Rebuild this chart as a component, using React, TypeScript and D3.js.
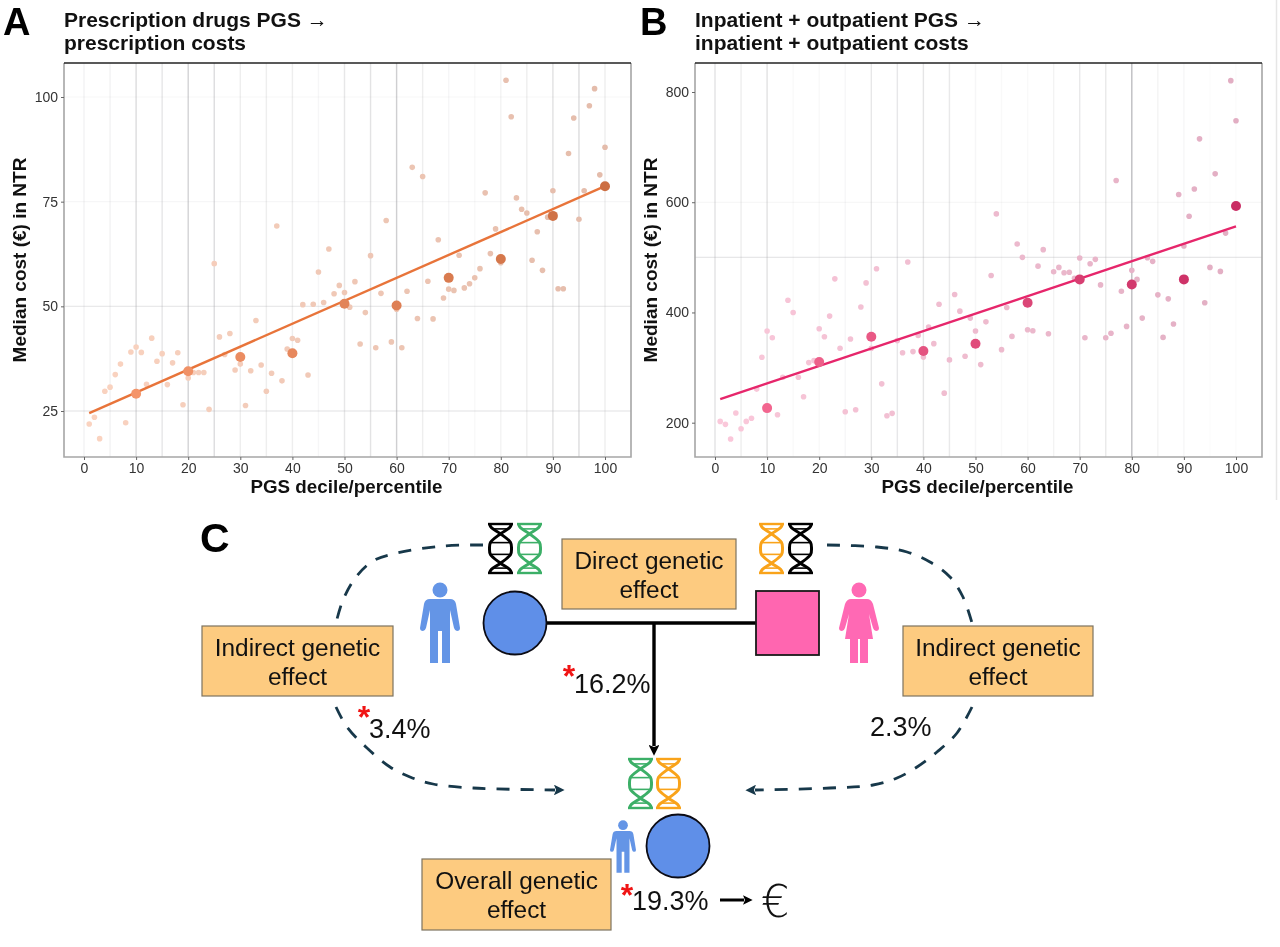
import { useEffect, useRef } from "react";
import * as d3 from "d3";

const FONT = "'Liberation Sans', Arial, sans-serif";

// percentile 1..100
const prescriptionPct = [
  21.9, 23.5, 18.4, 29.7, 30.7, 33.7, 36.2, 22.2, 39.1, 40.3,
  39.0, 31.4, 42.4, 36.9, 38.7, 31.3, 36.5, 38.9, 26.5, 32.9,
  34.2, 34.2, 34.2, 25.4, 60.2, 42.7, 38.5, 43.5, 34.8, 36.2,
  26.3, 34.6, 46.6, 36.0, 29.7, 34.0, 69.2, 32.2, 39.8, 42.3,
  41.9, 50.4, 33.6, 50.5, 58.2, 50.9, 63.7, 53.0, 55.0, 53.3,
  49.8, 55.9, 41.0, 48.5, 62.1, 40.1, 53.1, 70.5, 41.5, 49.3,
  40.1, 53.6, 83.2, 47.1, 81.0, 56.0, 47.0, 65.9, 52.0, 54.1,
  53.8, 62.2, 54.4, 55.4, 56.8, 59.0, 77.1, 62.6, 68.5, 60.4,
  104.0, 95.3, 75.9, 73.2, 72.3, 61.0, 67.8, 58.6, 71.3, 77.6,
  54.2, 54.2, 86.5, 95.0, 70.8, 77.6, 97.9, 102.0, 81.4, 88.0,
];
const prescriptionDecile = [29.1, 34.5, 37.9, 38.8, 50.6, 50.2, 56.8, 61.3, 71.6, 78.7];
const prescriptionFit = [24.5, 78.7];

const hospitalPct = [
  202.4, 197, 170.5, 217.5, 189, 202.4, 208, 261, 318.7, 366.3,
  354, 214.5, 282.5, 422.3, 400, 282.5, 247, 309, 312.7, 370.5,
  356, 393.4, 461, 335, 220, 351.8, 223.5, 410, 453.6, 335,
  479.4, 270.5, 212.6, 217, 349, 327, 491.5, 329, 358.4, 319,
  373.5, 343.4, 415, 253.6, 313.9, 432.5, 402.4, 320.5, 389.8, 366.3,
  305.4, 383, 467, 578.8, 332.5, 409, 356.6, 524.2, 500, 368.7,
  366.9, 484, 514, 361.4, 474, 481.8, 472, 473, 462, 498.8,
  354, 488.5, 496.4, 450, 354, 362.4, 639.4, 438.6, 374.7, 476.4,
  460, 389.8, 499.4, 492.7, 432, 354.8, 424.7, 379, 614, 520.6,
  574.5, 624, 715, 417.5, 481.8, 651.5, 474.5, 544, 820.6, 747.9,
];
const hospitalDecile = [226.5, 310, 356, 330, 343.4, 417.5, 460, 450.6, 460, 593.3];
const hospitalFit = [242.8, 556.4];

const decileTicks = [0, 10, 20, 30, 40, 50, 60, 70, 80, 90, 100];
const gridSteps = d3.range(0, 101, 5);
const gridShadeA = [0.15, 0.15, 0.4, 0.28, 0.5, 0.4, 0.2, 0.2, 0.2, 0.1, 0.28, 0.32, 0.55, 0.2, 0.1, 0.07, 0.14, 0.2, 0.35, 0.4, 0.2];
const gridShadeB = [0.32, 0.2, 0.35, 0.07, 0.07, 0.1, 0.28, 0.27, 0.3, 0.25, 0.1, 0.07, 0.07, 0.14, 0.25, 0.25, 0.75, 0.14, 0.1, 0.04, 0.04];

type PanelOpts = {
  left: number;
  letter: string;
  letterX: number;
  title: string[];
  pct: number[];
  deciles: number[];
  fit: number[];
  yTicks: number[];
  // y domain is fixed by two readable ticks
  yDomain: [number, number];
  yRange: [number, number];
  yGrid: [number, number][];
  gridShade: number[];
  smallColors: [string, string];
  decileColors: [string, string];
  lineColor: string;
};

const PANEL_W = 567;
const TOP = 63;
const BOTTOM = 457;

function drawPanel(svg: d3.Selection<SVGSVGElement, unknown, null, undefined>, o: PanelOpts) {
  const right = o.left + PANEL_W;
  const x = d3.scaleLinear().domain([0, 100]).range([o.left + 20, o.left + 541]);
  const y = d3.scaleLinear().domain(o.yDomain).range(o.yRange);
  const g = svg.append("g");

  g.append("text")
    .attr("x", o.letterX)
    .attr("y", 34.5)
    .attr("font-family", FONT)
    .attr("font-weight", 700)
    .attr("font-size", 38)
    .attr("fill", "#000")
    .text(o.letter);

  g.selectAll("text.title")
    .data(o.title)
    .join("text")
    .attr("class", "title")
    .attr("x", o.left)
    .attr("y", (_, i) => 27 + i * 23)
    .attr("font-family", FONT)
    .attr("font-weight", 700)
    .attr("font-size", 21)
    .attr("fill", "#111")
    .text((d) => d);

  g.append("g")
    .selectAll("line")
    .data(gridSteps)
    .join("line")
    .attr("x1", (d) => x(d))
    .attr("x2", (d) => x(d))
    .attr("y1", TOP)
    .attr("y2", BOTTOM)
    .attr("stroke", "#a8a8ac")
    .attr("stroke-width", 1.4)
    .attr("stroke-opacity", (_, i) => o.gridShade[i]);

  g.append("g")
    .selectAll("line")
    .data(o.yGrid)
    .join("line")
    .attr("x1", o.left)
    .attr("x2", right)
    .attr("y1", (d) => y(d[0]))
    .attr("y2", (d) => y(d[0]))
    .attr("stroke", "#a8a8ac")
    .attr("stroke-width", 1.2)
    .attr("stroke-opacity", (d) => d[1]);

  const smallColor = d3.scaleLinear<string>().domain([1, 100]).range(o.smallColors);
  g.append("g")
    .selectAll("circle")
    .data(o.pct)
    .join("circle")
    .attr("cx", (_, i) => x(i + 1))
    .attr("cy", (d) => y(d))
    .attr("r", 2.8)
    .attr("fill", (_, i) => smallColor(i + 1));

  const pctSpan = d3.range(1, 101);
  const fitLine = d3
    .line<number>()
    .x((_, i) => x(pctSpan[i === 0 ? 0 : 99]))
    .y((d) => y(d));
  g.append("path")
    .attr("d", fitLine(o.fit))
    .attr("fill", "none")
    .attr("stroke", o.lineColor)
    .attr("stroke-width", 2.4);

  const decColor = d3.scaleLinear<string>().domain([10, 100]).range(o.decileColors);
  g.append("g")
    .selectAll("circle")
    .data(o.deciles)
    .join("circle")
    .attr("cx", (_, i) => x((i + 1) * 10))
    .attr("cy", (d) => y(d))
    .attr("r", 5)
    .attr("fill", (_, i) => decColor((i + 1) * 10));

  // frame: dark along the top, grey on the other sides
  g.append("path")
    .attr("d", `M${o.left},${TOP}V${BOTTOM}H${right}V${TOP}`)
    .attr("fill", "none")
    .attr("stroke", "#a6a6a6")
    .attr("stroke-width", 1.6);
  g.append("line").attr("x1", o.left).attr("x2", right).attr("y1", TOP).attr("y2", TOP).attr("stroke", "#222").attr("stroke-width", 1.4);

  const xAxis = g
    .append("g")
    .attr("transform", `translate(0,${BOTTOM})`)
    .call(d3.axisBottom(x).tickValues(decileTicks).tickSize(3).tickPadding(3));
  const yAxis = g
    .append("g")
    .attr("transform", `translate(${o.left},0)`)
    .call(d3.axisLeft(y).tickValues(o.yTicks).tickSize(3).tickPadding(3));
  [xAxis, yAxis].forEach((a) => {
    a.select(".domain").remove();
    a.selectAll("line").attr("stroke", "#666");
    a.selectAll("text").attr("font-family", FONT).attr("font-size", 14).attr("fill", "#333");
  });

  g.append("text")
    .attr("x", o.left + PANEL_W / 2 - 1)
    .attr("y", 493)
    .attr("text-anchor", "middle")
    .attr("font-family", FONT)
    .attr("font-weight", 700)
    .attr("font-size", 18.8)
    .attr("fill", "#111")
    .text("PGS decile/percentile");

  g.append("text")
    .attr("transform", `translate(${o.left - 38},${(TOP + BOTTOM) / 2}) rotate(-90)`)
    .attr("text-anchor", "middle")
    .attr("font-family", FONT)
    .attr("font-weight", 700)
    .attr("font-size", 19)
    .attr("fill", "#111")
    .text("Median cost (€) in NTR");
}

// helix strand, as fractions of the icon box
const helixNodes: [number, number][] = [
  [0.5, 0], [0.42, 0.07], [0, 0.2], [-0.46, 0.38], [-0.5, 0.5], [-0.46, 0.62], [0, 0.8], [0.42, 0.93], [0.5, 1],
];
const helixRungs: [number, number][] = [[0, 1], [0.1, 0.55], [0.38, 0.9], [0.62, 0.9], [0.9, 0.55], [1, 1]];

function drawHelix(svg: d3.Selection<SVGSVGElement, unknown, null, undefined>, x0: number, y0: number, color: string) {
  const w = 25;
  const h = 49;
  const g = svg.append("g").attr("transform", `translate(${x0 + w / 2},${y0})`);
  [1, -1].forEach((s) => {
    const strand = d3
      .line<[number, number]>()
      .x((d) => s * d[0] * (w - 3))
      .y((d) => d[1] * h)
      .curve(d3.curveCatmullRom);
    g.append("path").attr("d", strand(helixNodes)).attr("fill", "none").attr("stroke", color).attr("stroke-width", 3);
  });
  helixRungs.forEach(([t, width], i) => {
    g.append("line")
      .attr("x1", (-width * w) / 2)
      .attr("x2", (width * w) / 2)
      .attr("y1", t * h)
      .attr("y2", t * h)
      .attr("stroke", color)
      .attr("stroke-width", i === 0 || i === 5 ? 2.4 : 1.6);
  });
}

const MALE =
  "M-10,17L10,17Q15,17 16,22L20,46Q20,49 17,49Q15,49 14,46L10,28L10,81L2,81L2,49L-2,49L-2,81L-10,81L-10,28L-14,46Q-15,49 -17,49Q-20,49 -20,46L-16,22Q-15,17 -10,17Z";
const FEMALE =
  "M-8,17L8,17Q12,17 14,22L20,46Q20,49 17,49Q15,49 14,46L10,32L14,57L9,57L9,81L1,81L1,57L-1,57L-1,81L-9,81L-9,57L-14,57L-10,32L-14,46Q-15,49 -17,49Q-20,49 -20,46L-14,22Q-12,17 -8,17Z";

function drawPerson(svg: d3.Selection<SVGSVGElement, unknown, null, undefined>, cx: number, top: number, k: number, d: string, color: string) {
  const g = svg.append("g").attr("transform", `translate(${cx},${top}) scale(${k})`).attr("fill", color);
  g.append("circle").attr("cx", 0).attr("cy", 8).attr("r", 7.5);
  g.append("path").attr("d", d);
}

const boxes = [
  { x: 562, y: 539, w: 174, h: 70, lines: ["Direct genetic", "effect"] },
  { x: 202, y: 626, w: 191, h: 70, lines: ["Indirect genetic", "effect"] },
  { x: 903, y: 626, w: 190, h: 70, lines: ["Indirect genetic", "effect"] },
  { x: 422, y: 859, w: 189, h: 71, lines: ["Overall genetic", "effect"] },
];

const dashedPaths: [number, number][][] = [
  [[483, 545], [443, 546], [397, 553], [373, 561], [356, 577], [343, 600], [336, 623]],
  [[336, 707], [347, 727], [367, 748], [390, 767], [410, 777], [433, 784], [473, 788], [555, 790]],
  [[827, 545], [877, 547], [907, 552], [930, 562], [950, 577], [963, 597], [972, 623]],
  [[972, 707], [957, 733], [937, 752], [917, 767], [897, 778], [873, 785], [830, 788], [755, 790]],
];

const percentLabels = [
  { text: "16.2%", x: 574, y: 693, star: [569, 668] },
  { text: "3.4%", x: 369, y: 738, star: [364, 709] },
  { text: "2.3%", x: 870, y: 736, star: null },
  { text: "19.3%", x: 632, y: 910, star: [627, 887] },
];

function drawDiagram(svg: d3.Selection<SVGSVGElement, unknown, null, undefined>) {
  const NAVY = "#17384a";
  const defs = svg.append("defs");
  const marker = (id: string, color: string, size: number) =>
    defs
      .append("marker")
      .attr("id", id)
      .attr("viewBox", "0 0 10 10")
      .attr("refX", 1)
      .attr("refY", 5)
      .attr("markerWidth", size)
      .attr("markerHeight", size)
      .attr("orient", "auto")
      .append("path")
      .attr("d", "M0,0L10,5L0,10L2,5Z")
      .attr("fill", color);
  marker("navyHead", NAVY, 3.8);
  marker("blackHead", "#000", 3.2);

  svg.append("text").attr("x", 200).attr("y", 552).attr("font-family", FONT).attr("font-weight", 700).attr("font-size", 41).text("C");

  const curve = d3.line<[number, number]>().curve(d3.curveCatmullRom);
  dashedPaths.forEach((pts, i) => {
    svg
      .append("path")
      .attr("d", curve(pts))
      .attr("fill", "none")
      .attr("stroke", NAVY)
      .attr("stroke-width", 2.8)
      .attr("stroke-dasharray", "13 11")
      .attr("marker-end", i % 2 === 1 ? "url(#navyHead)" : null);
  });

  svg.append("line").attr("x1", 515).attr("x2", 787).attr("y1", 623).attr("y2", 623).attr("stroke", "#000").attr("stroke-width", 3.4);
  svg.append("line").attr("x1", 654).attr("x2", 654).attr("y1", 623).attr("y2", 746).attr("stroke", "#000").attr("stroke-width", 3.4).attr("marker-end", "url(#blackHead)");

  svg.append("circle").attr("cx", 515).attr("cy", 623).attr("r", 31.5).attr("fill", "#5F8FE8").attr("stroke", "#0b0b14").attr("stroke-width", 1.8);
  svg.append("rect").attr("x", 756).attr("y", 591).attr("width", 63).attr("height", 64).attr("fill", "#FF66B0").attr("stroke", "#1a1a1a").attr("stroke-width", 1.8);
  svg.append("circle").attr("cx", 678).attr("cy", 846).attr("r", 31.5).attr("fill", "#5F8FE8").attr("stroke", "#0b0b14").attr("stroke-width", 1.8);

  drawHelix(svg, 488, 524, "#000");
  drawHelix(svg, 517, 524, "#3CAF67");
  drawHelix(svg, 759, 524, "#F9A31A");
  drawHelix(svg, 788, 524, "#000");
  drawHelix(svg, 628, 759, "#3CAF67");
  drawHelix(svg, 656, 759, "#F9A31A");

  drawPerson(svg, 440, 582, 1, MALE, "#6495E6");
  drawPerson(svg, 859, 582, 1, FEMALE, "#FF69B4");
  drawPerson(svg, 623, 820, 0.65, MALE, "#6495E6");

  boxes.forEach((b) => {
    svg.append("rect").attr("x", b.x).attr("y", b.y).attr("width", b.w).attr("height", b.h).attr("fill", "#FDCB80").attr("stroke", "#7d735f").attr("stroke-width", 1.2);
    b.lines.forEach((t, i) => {
      svg
        .append("text")
        .attr("x", b.x + b.w / 2)
        .attr("y", b.y + 30 + i * 29)
        .attr("text-anchor", "middle")
        .attr("font-family", FONT)
        .attr("font-size", 24.4)
        .attr("fill", "#111")
        .text(t);
    });
  });

  percentLabels.forEach((p) => {
    svg.append("text").attr("x", p.x).attr("y", p.y).attr("font-family", FONT).attr("font-size", 27).attr("fill", "#111").text(p.text);
    if (p.star) {
      svg
        .append("text")
        .attr("x", p.star[0])
        .attr("y", p.star[1] + 19)
        .attr("text-anchor", "middle")
        .attr("font-family", FONT)
        .attr("font-weight", 700)
        .attr("font-size", 32)
        .attr("fill", "#F01414")
        .text("*");
    }
  });

  svg.append("line").attr("x1", 720).attr("x2", 744).attr("y1", 900).attr("y2", 900).attr("stroke", "#000").attr("stroke-width", 3).attr("marker-end", "url(#blackHead)");
  svg.append("text").attr("x", 761).attr("y", 917).attr("font-family", "'DejaVu Sans'").attr("font-weight", 200).attr("font-size", 45).attr("fill", "#111").text("€");
}

export default function App() {
  const ref = useRef<SVGSVGElement>(null);

  useEffect(() => {
    if (!ref.current) return;
    const svg = d3.select(ref.current);
    svg.selectAll("*").remove();
    svg.append("line").attr("x1", 1276.5).attr("x2", 1276.5).attr("y1", 0).attr("y2", 500).attr("stroke", "#e6e6e6").attr("stroke-width", 1.5);

    drawPanel(svg, {
      left: 64,
      letter: "A",
      letterX: 3,
      title: ["Prescription drugs PGS →", "prescription costs"],
      pct: prescriptionPct,
      deciles: prescriptionDecile,
      fit: prescriptionFit,
      yTicks: [25, 50, 75, 100],
      yDomain: [25, 100],
      yRange: [411, 97],
      yGrid: [[25, 0.35], [50, 0.25], [75, 0.1], [100, 0.08]],
      gridShade: gridShadeA,
      smallColors: ["#FAD3C0", "#E4BCAB"],
      decileColors: ["#F4956A", "#CC6E42"],
      lineColor: "#E8743A",
    });
    drawPanel(svg, {
      left: 695,
      letter: "B",
      letterX: 640,
      title: ["Inpatient + outpatient PGS →", "inpatient + outpatient costs"],
      pct: hospitalPct,
      deciles: hospitalDecile,
      fit: hospitalFit,
      yTicks: [200, 400, 600, 800],
      yDomain: [200, 800],
      yRange: [422.7, 92],
      yGrid: [[600, 0.12], [500, 0.28]],
      gridShade: gridShadeB,
      smallColors: ["#FAC8DA", "#E2AEC3"],
      decileColors: ["#F2668F", "#C92C63"],
      lineColor: "#E6266B",
    });
    drawDiagram(svg);
  }, []);

  return <svg ref={ref} width={1280} height={947} style={{ position: "absolute", left: 0, top: 0, background: "#fff", filter: "blur(0.45px)" }} />;
}
